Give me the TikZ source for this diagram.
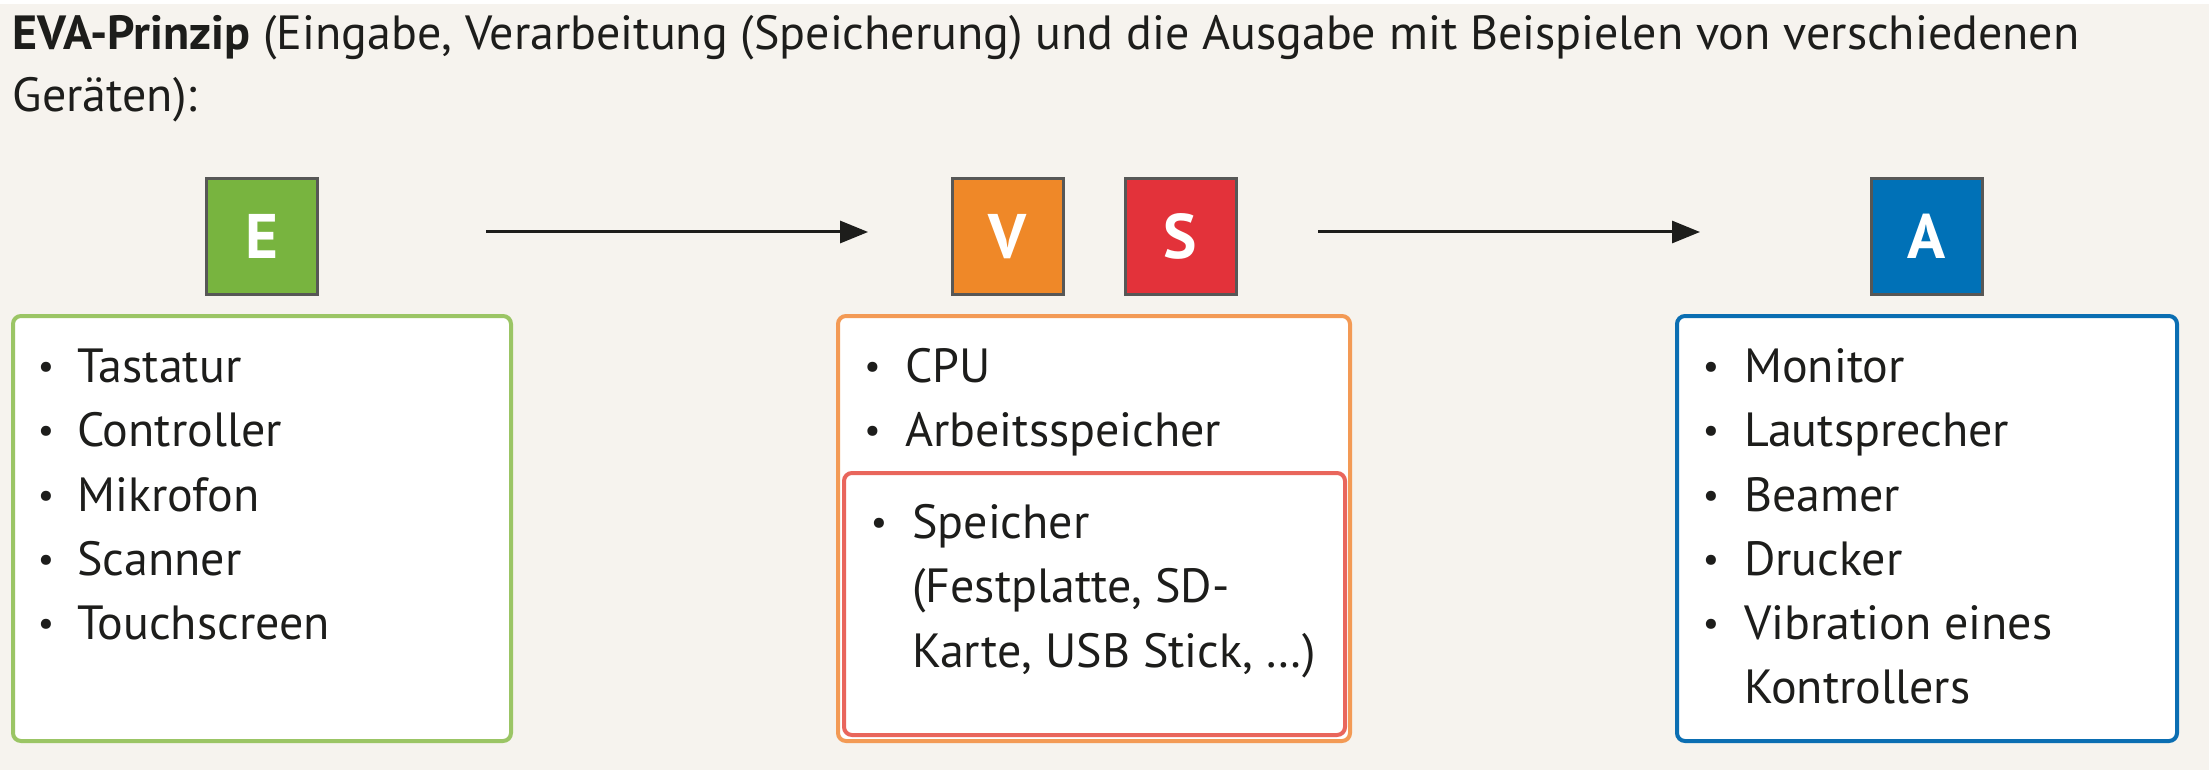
\documentclass[tikz,border=0pt]{standalone}
\usepackage{fontspec}
\setmainfont{PT Sans}
\usetikzlibrary{arrows.meta}
\definecolor{bg}{HTML}{F6F3EE}
\definecolor{ink}{HTML}{1D1D1B}
\definecolor{boxline}{HTML}{575756}
\definecolor{efill}{HTML}{78B43F}
\definecolor{vfill}{HTML}{EF8828}
\definecolor{sfill}{HTML}{E3323A}
\definecolor{afill}{HTML}{0071B7}
\definecolor{eline}{HTML}{9BC565}
\definecolor{vline}{HTML}{F39A55}
\definecolor{sline}{HTML}{E9665C}
\definecolor{aline}{HTML}{0B6EB2}
\newcommand\lstfnt{\fontsize{48}{56}\selectfont}
\newcommand\bulfnt{\fontsize{36}{40}\selectfont}
\newcommand\ttlfnt{\fontsize{48}{56}\selectfont}
\begin{document}
\begin{tikzpicture}[x=1pt,y=-1pt,
  letterbox/.style={draw=boxline, line width=3pt, minimum width=111pt, minimum height=116pt,
    inner sep=0pt, outer sep=0pt, text=white, font=\fontsize{63}{63}\selectfont\bfseries},
  listbox/.style={fill=white, line width=4pt, rounded corners=8pt, inner sep=0pt, outer sep=0pt},
  itm/.style={anchor=base west, inner sep=0pt, font=\lstfnt, text=ink},
  bul/.style={anchor=base, inner sep=0pt, font=\bulfnt, text=ink},
  arr/.style={draw=ink, line width=3pt, -{Triangle[length=28pt,width=22pt]}},
  ttl/.style={anchor=base west, inner sep=0pt, font=\ttlfnt, text=ink}]
\useasboundingbox (0,0) rectangle (2209,770);
\fill[bg] (0,0) rectangle (2209,770);
\fill[white] (0,0) rectangle (2209,4);

% title
\node[ttl] (t1) at (12.6,50) {\textbf{EVA-Prinzip} (Eingabe, Verarbeitung (Speicherung) und die Ausgabe mit Beispielen von verschiedenen};
\node[ttl] (t2) at (12.6,112) {Geräten):};

% letter boxes
\node[letterbox, fill=efill] (e) at (261.6,236.5) {E};
\node[letterbox, fill=vfill] (v) at (1007.6,236.5) {V};
\node[letterbox, fill=sfill] (s) at (1180.5,236.5) {S};
\node[letterbox, fill=afill] (a) at (1926.5,236.5) {A};

% arrows
\draw[arr, shorten <=169pt, shorten >=84pt] ([yshift=4.5pt]e.east) -- ([yshift=4.5pt]v.west);
\draw[arr, shorten <=82pt, shorten >=171pt] ([yshift=4.5pt]s.east) -- ([yshift=4.5pt]a.west);

% list boxes
\node[listbox, draw=eline, minimum width=498pt, minimum height=425pt] (elist) at (262,528.5) {};
\node[listbox, draw=vline, minimum width=512pt, minimum height=425pt] (vlist) at (1094,528.5) {};
\node[listbox, draw=sline, minimum width=501pt, minimum height=262pt] (slist) at (1094.5,604) {};
\node[listbox, draw=aline, minimum width=500pt, minimum height=425pt] (alist) at (1927,528.5) {};

% E items
\node[bul] (eb1) at (46,378) {•}; \node[itm] (ei1) at (77,382) {Tastatur};
\node[bul] (eb2) at (46,442) {•}; \node[itm] (ei2) at (77,446) {Controller};
\node[bul] (eb3) at (46,507) {•}; \node[itm] (ei3) at (77,511) {Mikrofon};
\node[bul] (eb4) at (46,571) {•}; \node[itm] (ei4) at (77,575) {Scanner};
\node[bul] (eb5) at (46,635) {•}; \node[itm] (ei5) at (77,639) {Touchscreen};

% V items
\node[bul] (vb1) at (872.5,378) {•}; \node[itm] (vi1) at (905,382) {CPU};
\node[bul] (vb2) at (872.5,442) {•}; \node[itm] (vi2) at (905,446) {Arbeitsspeicher};

% S items
\node[bul] (sb1) at (879,534) {•}; \node[itm] (si1) at (912,538) {Speicher};
\node[itm] (si2) at (912,602) {(Festplatte, SD-};
\node[itm] (si3) at (912,667) {Karte, USB Stick, …)};

% A items
\node[bul] (ab1) at (1711,378) {•}; \node[itm] (ai1) at (1744,382) {Monitor};
\node[bul] (ab2) at (1711,442) {•}; \node[itm] (ai2) at (1744,446) {Lautsprecher};
\node[bul] (ab3) at (1711,507) {•}; \node[itm] (ai3) at (1744,511) {Beamer};
\node[bul] (ab4) at (1711,571) {•}; \node[itm] (ai4) at (1744,575) {Drucker};
\node[bul] (ab5) at (1711,635) {•}; \node[itm] (ai5) at (1744,639) {Vibration eines};
\node[itm] (ai6) at (1744,703) {Kontrollers};
\end{tikzpicture}
\end{document}
